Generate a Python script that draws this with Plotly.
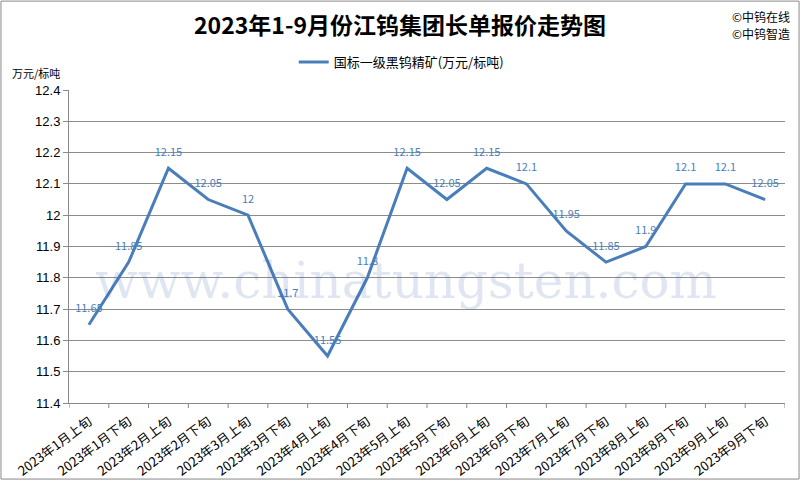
import plotly.graph_objects as go

categories = ["2023年1月上旬", "2023年1月下旬", "2023年2月上旬", "2023年2月下旬", "2023年3月上旬",
              "2023年3月下旬", "2023年4月上旬", "2023年4月下旬", "2023年5月上旬", "2023年5月下旬",
              "2023年6月上旬", "2023年6月下旬", "2023年7月上旬", "2023年7月下旬", "2023年8月上旬",
              "2023年8月下旬", "2023年9月上旬", "2023年9月下旬"]
prices = [11.65, 11.85, 12.15, 12.05, 12.0, 11.7, 11.55, 11.8, 12.15, 12.05,
          12.15, 12.1, 11.95, 11.85, 11.9, 12.1, 12.1, 12.05]
price_labels = ["11.65", "11.85", "12.15", "12.05", "12", "11.7", "11.55", "11.8", "12.15", "12.05",
                "12.15", "12.1", "11.95", "11.85", "11.9", "12.1", "12.1", "12.05"]
y_ticks = [11.4, 11.5, 11.6, 11.7, 11.8, 11.9, 12.0, 12.1, 12.2, 12.3, 12.4]
y_tick_text = ["11.4", "11.5", "11.6", "11.7", "11.8", "11.9", "12", "12.1", "12.2", "12.3", "12.4"]
series_name = "国标一级黑钨精矿(万元/标吨)"

FONT = "Noto Sans CJK SC"
BLUE = "#4a7ebb"

fig = go.Figure()
fig.add_trace(go.Scatter(
    x=list(range(len(categories))), y=prices, mode="lines+markers+text", name=series_name,
    text=price_labels, textposition="top center",
    textfont=dict(family=FONT, size=11, color=BLUE),
    line=dict(color=BLUE, width=3),
    marker=dict(size=14, color="rgba(0,0,0,0)", line=dict(width=0)),
))

fig.update_layout(
    width=800, height=480,
    paper_bgcolor="white", plot_bgcolor="white",
    margin=dict(l=69, r=15, t=90, b=77, autoexpand=False),
    font=dict(family=FONT, size=12, color="black"),
    showlegend=True,
    legend=dict(orientation="h", x=0.464, xanchor="center", y=1.089, yanchor="middle",
                font=dict(family=FONT, size=13, color="black"),
                bgcolor="rgba(0,0,0,0)", itemwidth=30),
    title=dict(text="<b>2023年1-9月份江钨集团长单报价走势图</b>", x=0.50, xanchor="center",
               y=0.945, yanchor="middle", font=dict(family=FONT, size=23, color="black")),
    xaxis=dict(range=[-0.5, len(categories) - 0.5], tickmode="array",
               tickvals=list(range(len(categories))), ticktext=categories, automargin=False,
               tickangle=-37, showgrid=False, showline=True, linecolor="#888888", linewidth=1,
               ticks="", ticklabelstandoff=5,
               tickfont=dict(family=FONT, size=13, color="black"), zeroline=False),
    yaxis=dict(range=[11.4, 12.4], tickmode="array", tickvals=y_ticks, ticktext=y_tick_text,
               automargin=False,
               showgrid=True, gridcolor="#8c8c8c", gridwidth=1, showline=True,
               linecolor="#888888", linewidth=1, ticks="outside", ticklen=5, tickcolor="#888888",
               tickfont=dict(family="Liberation Sans", size=13, color="black"), zeroline=False),
)

# category boundary tick marks below x-axis
for i in range(len(categories) + 1):
    fig.add_shape(type="line", xref="x", yref="paper", x0=i - 0.5, x1=i - 0.5, y0=0, y1=-0.016,
                  line=dict(color="#888888", width=1))

fig.add_annotation(text="万元/标吨", xref="paper", yref="paper", x=-0.083, y=1.054,
                   xanchor="left", yanchor="middle", showarrow=False,
                   font=dict(family=FONT, size=11, color="black"))
fig.add_annotation(text="©中钨在线", xref="paper", yref="paper", x=1.01, y=1.236,
                   xanchor="right", yanchor="middle", showarrow=False,
                   font=dict(family=FONT, size=12, color="black"))
fig.add_annotation(text="©中钨智造", xref="paper", yref="paper", x=1.01, y=1.182,
                   xanchor="right", yanchor="middle", showarrow=False,
                   font=dict(family=FONT, size=12, color="black"))
fig.add_annotation(text="www.chinatungsten.com", xref="paper", yref="paper", x=0.47, y=0.39,
                   xanchor="center", yanchor="middle", showarrow=False, opacity=0.15,
                   font=dict(family="DejaVu Serif", size=50, color="#3a5fa8"))

fig.add_shape(type="rect", xref="paper", yref="paper", x0=-0.095, x1=1.0196, y0=-0.243, y1=1.284,
              line=dict(color="#888888", width=1), fillcolor="rgba(0,0,0,0)")

fig.write_html("out.html", config={"displayModeBar": False},
               post_script="document.body.style.margin='0';document.body.style.overflow='hidden';")
